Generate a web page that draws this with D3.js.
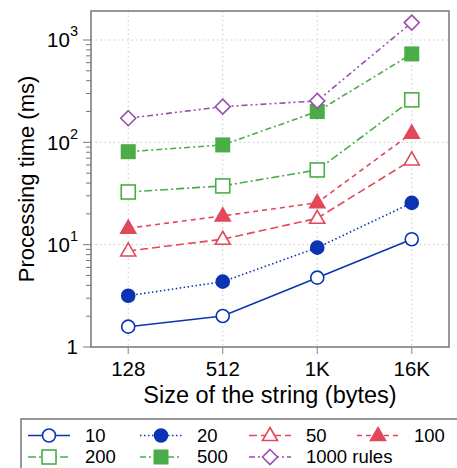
<!DOCTYPE html>
<html>
<head>
<meta charset="utf-8">
<script src="https://cdn.jsdelivr.net/npm/d3@7"></script>
<style>
  body { margin: 0; background: #fff; }
  svg { font-family: "Liberation Sans", Arial, Helvetica, sans-serif; }
</style>
</head>
<body>
<svg id="chart" width="457" height="468"></svg>
<script>
// string sizes on the x axis
var sizes = ["128", "512", "1K", "16K"];

// processing time (ms) per number of rules
var rules10 = [1.58, 2.01, 4.76, 11.3];
var rules20 = [3.17, 4.35, 9.35, 25.6];
var rules50 = [8.68, 11.3, 18.1, 67.3];
var rules100 = [14.5, 19.1, 25.7, 123];
var rules200 = [32.7, 37.5, 53.7, 260];
var rules500 = [81, 94.3, 200, 731];
var rules1000 = [172, 223, 254, 1480];

var seriesNames = ["10", "20", "50", "100", "200", "500", "1000 rules"];
var yTickExponents = [0, 1, 2, 3];

var blue = "#0b34b4", red = "#e2475a", green = "#4aad48", purple = "#9b4fae";

var series = [
  { name: seriesNames[0], values: rules10, color: blue, dash: null, shape: "circle", fill: false },
  { name: seriesNames[1], values: rules20, color: blue, dash: "1.5,2.5", shape: "circle", fill: true },
  { name: seriesNames[2], values: rules50, color: red, dash: "8,4", shape: "triangle", fill: false },
  { name: seriesNames[3], values: rules100, color: red, dash: "5,4", shape: "triangle", fill: true },
  { name: seriesNames[4], values: rules200, color: green, dash: "8,3,2,3", shape: "square", fill: false },
  { name: seriesNames[5], values: rules500, color: green, dash: "6,3,2,3", shape: "square", fill: true },
  { name: seriesNames[6], values: rules1000, color: purple, dash: "6,3,2,3,2,3", shape: "diamond", fill: false }
];

var margin = { top: 11, right: 8, bottom: 121, left: 91 };
var width = 457 - margin.left - margin.right;
var height = 468 - margin.top - margin.bottom;

var svg = d3.select("#chart");
var g = svg.append("g").attr("transform", "translate(" + margin.left + "," + margin.top + ")");

var x = d3.scalePoint().domain(sizes).range([0, width]).padding(0.394);
var y = d3.scaleLog().domain([1, 1920]).range([height, 0]);

// grid
g.append("g").selectAll("line").data(yTickExponents.slice(1)).enter().append("line")
  .attr("x1", 0).attr("x2", width)
  .attr("y1", function (d) { return y(Math.pow(10, d)); })
  .attr("y2", function (d) { return y(Math.pow(10, d)); })
  .attr("stroke", "#c8c8c8").attr("stroke-dasharray", "1.5,3");
g.append("g").selectAll("line").data(sizes).enter().append("line")
  .attr("x1", function (d) { return x(d); }).attr("x2", function (d) { return x(d); })
  .attr("y1", 0).attr("y2", height)
  .attr("stroke", "#c8c8c8").attr("stroke-dasharray", "1.5,3");

// minor + major ticks on y
var minor = [];
yTickExponents.forEach(function (e) {
  for (var k = 1; k < 10; k++) {
    var v = k * Math.pow(10, e);
    if (v <= 1920) minor.push({ v: v, major: k === 1 });
  }
});
g.append("g").selectAll("line").data(minor).enter().append("line")
  .attr("x1", function (d) { return d.major ? -8 : -5; }).attr("x2", 0)
  .attr("y1", function (d) { return y(d.v); }).attr("y2", function (d) { return y(d.v); })
  .attr("stroke", "#777").attr("stroke-width", 1);

// x ticks
g.append("g").selectAll("line").data(sizes).enter().append("line")
  .attr("x1", function (d) { return x(d); }).attr("x2", function (d) { return x(d); })
  .attr("y1", height).attr("y2", height + 7)
  .attr("stroke", "#999").attr("stroke-width", 1.2);

// frame
g.append("rect").attr("width", width).attr("height", height)
  .attr("fill", "none").attr("stroke", "#777").attr("stroke-width", 1.5);

// y tick labels
var yLab = g.append("g").attr("font-size", 20.5).attr("text-anchor", "end");
yTickExponents.forEach(function (e) {
  var t = yLab.append("text").attr("x", -13).attr("y", y(Math.pow(10, e))).attr("dy", "0.36em");
  if (e === 0) {
    t.text("1");
  } else {
    t.append("tspan").text("10");
    t.append("tspan").attr("font-size", 14.5).attr("dy", "-0.75em").text(e);
  }
});

// x tick labels
g.append("g").selectAll("text").data(sizes).enter().append("text")
  .attr("x", function (d) { return x(d); }).attr("y", height + 29)
  .attr("text-anchor", "middle").attr("font-size", 20.5).text(function (d) { return d; });

// axis titles
svg.append("text").attr("x", 270).attr("y", 403)
  .attr("text-anchor", "middle").attr("font-size", 23.5).text("Size of the string (bytes)");
svg.append("text").attr("transform", "translate(34," + 179 + ") rotate(-90)")
  .attr("text-anchor", "middle").attr("font-size", 22).text("Processing time (ms)");

function drawMarker(sel, s, cx, cy) {
  var fill = s.fill ? s.color : "#fff";
  if (s.shape === "circle") {
    sel.append("circle").attr("cx", cx).attr("cy", cy).attr("r", 6.5)
      .attr("fill", fill).attr("stroke", s.color).attr("stroke-width", 1.6);
  } else if (s.shape === "square") {
    var h = s.fill ? 7.5 : 7;
    sel.append("rect").attr("x", cx - h).attr("y", cy - h).attr("width", 2 * h).attr("height", 2 * h)
      .attr("fill", fill).attr("stroke", s.fill ? "none" : s.color).attr("stroke-width", 1.6);
  } else if (s.shape === "triangle") {
    var p = [[cx, cy - 8], [cx + 7.5, cy + 5], [cx - 7.5, cy + 5]];
    sel.append("path").attr("d", "M" + p.join("L") + "Z")
      .attr("fill", fill).attr("stroke", s.color).attr("stroke-width", 1.6);
  } else {
    var q = [[cx, cy - 7.5], [cx + 7.5, cy], [cx, cy + 7.5], [cx - 7.5, cy]];
    sel.append("path").attr("d", "M" + q.join("L") + "Z")
      .attr("fill", fill).attr("stroke", s.color).attr("stroke-width", 1.6);
  }
}

var line = d3.line()
  .x(function (d, i) { return x(sizes[i]); })
  .y(function (d) { return y(d); });

series.forEach(function (s) {
  g.append("path").datum(s.values).attr("d", line)
    .attr("fill", "none").attr("stroke", s.color).attr("stroke-width", 1.6)
    .attr("stroke-dasharray", s.dash);
});
series.forEach(function (s) {
  var mg = g.append("g");
  s.values.forEach(function (v, i) { drawMarker(mg, s, x(sizes[i]), y(v)); });
});

// legend
var lg = svg.append("g");
lg.append("rect").attr("x", 21).attr("y", 419).attr("width", 460).attr("height", 70)
  .attr("fill", "#fff").attr("stroke", "#777").attr("stroke-width", 1.5);
var colX = [28, 140, 249, 357];
series.forEach(function (s, i) {
  var col = i < 4 ? i : i - 4;
  var row = i < 4 ? 0 : 1;
  var lx = colX[col], ly = 435.5 + row * 21.5;
  var item = lg.append("g");
  item.append("line").attr("x1", lx).attr("x2", lx + 42).attr("y1", ly).attr("y2", ly)
    .attr("stroke", s.color).attr("stroke-width", 1.6).attr("stroke-dasharray", s.dash);
  drawMarker(item, s, lx + 21, ly);
  item.append("text").attr("x", lx + 57).attr("y", ly).attr("dy", "0.35em")
    .attr("font-size", 18.5).text(s.name);
});
</script>
</body>
</html>
